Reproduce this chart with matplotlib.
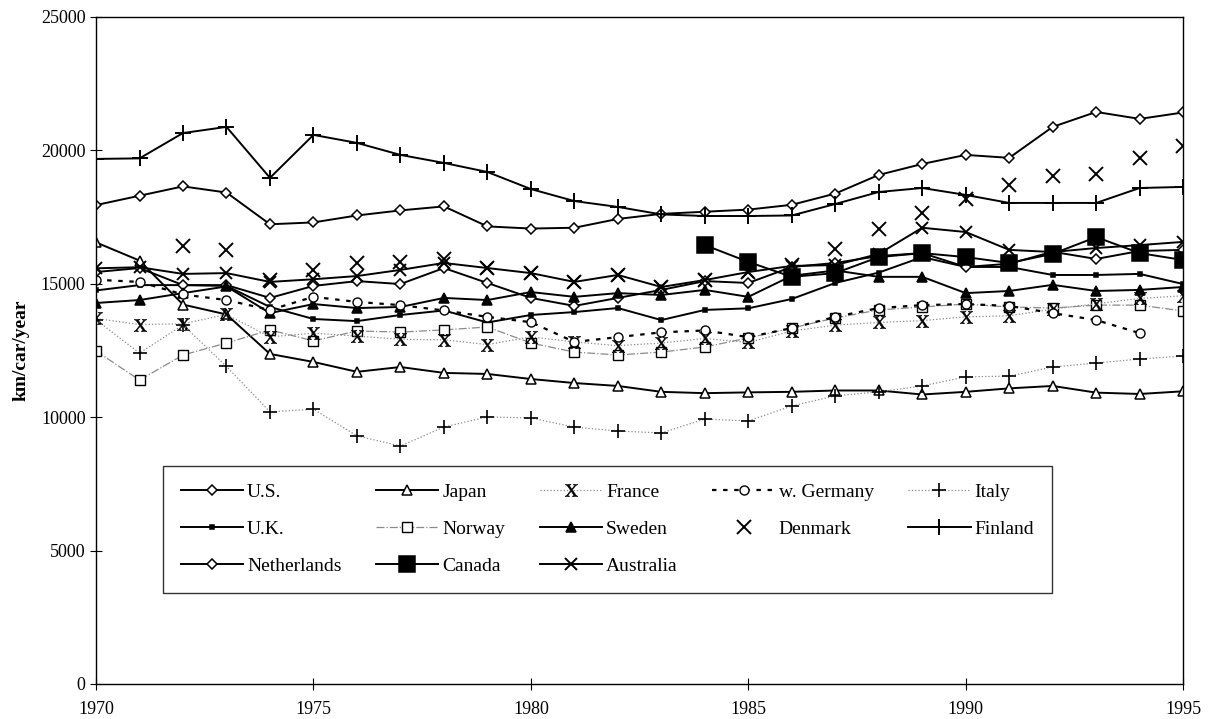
import matplotlib
matplotlib.use("Agg")
import matplotlib.pyplot as plt
import numpy as np

nan = np.nan

years = list(range(1970, 1996))

us = [17950, 18300, 18650, 18420, 17230, 17300, 17560, 17750, 17900, 17150, 17070, 17100, 17430,
      17620, 17700, 17780, 17960, 18380, 19080, 19490, 19830, 19720, 20880, 21440, 21180, 21420]
japan = [16550, 15870, 14220, 13850, 12370, 12070, 11700, 11880, 11660, 11620, 11430, 11280, 11170,
         10950, 10900, 10930, 10950, 11000, 11000, 10850, 10950, 11080, 11170, 10920, 10870, 10970]
france = [13700, 13470, 13500, 13850, 13010, 13150, 13040, 12920, 12900, 12720, 13010, 12820, 12680,
          12780, 12950, 12800, 13230, 13450, 13550, 13620, 13760, 13800, 14050, 14250, 14450, 14550]
w_germany = [15150, 15070, 14600, 14390, 14020, 14510, 14320, 14200, 14000, 13760, 13560, 12820, 13000,
             13180, 13250, 13000, 13340, 13760, 14090, 14200, 14240, 14170, 13900, 13640, 13150, nan]
italy = [13650, 12400, 13460, 11900, 10200, 10300, 9300, 8920, 9630, 10010, 9970, 9630, 9480,
         9410, 9930, 9860, 10420, 10800, 10950, 11170, 11510, 11540, 11880, 12030, 12180, 12290]
uk = [14750, 14950, 14950, 14920, 14130, 13680, 13600, 13830, 14000, 13550, 13830, 13940, 14090,
      13640, 14020, 14080, 14430, 15030, 15420, 16000, 15630, 15630, 15330, 15330, 15370, 14990]
norway = [12480, 11390, 12330, 12780, 13270, 12860, 13230, 13190, 13270, 13380, 12780, 12440, 12330,
          12440, 12630, 12970, 13340, 13720, 14020, 14130, 14240, 14130, 14090, 14200, 14200, 13980]
sweden = [14280, 14390, 14650, 14900, 13900, 14240, 14090, 14130, 14470, 14390, 14690, 14510, 14650,
          14580, 14770, 14510, 15300, 15500, 15260, 15260, 14650, 14730, 14960, 14730, 14770, 14880]
denmark = [nan, nan, 16420, 16270, 15150, 15520, 15780, 15820, 15930, 15590, 15400, 15070, 15330,
           14880, 15140, 15440, 15700, 16300, 17050, 17650, 18180, 18700, 19040, 19110, 19710, 20160]
finland = [19680, 19700, 20650, 20880, 18970, 20580, 20280, 19830, 19530, 19190, 18550, 18100, 17880,
           17600, 17540, 17540, 17560, 17990, 18440, 18590, 18330, 18030, 18030, 18030, 18590, 18630]
netherlands = [15440, 15590, 14950, 14950, 14470, 14920, 15100, 14990, 15590, 15030, 14470, 14170, 14470,
               14770, 15100, 15030, 15630, 15780, 16040, 16150, 15630, 15750, 16200, 15930, 16230, 16270]
canada = [nan] * 14 + [16450, 15820, 15260, 15400, 16000, 16150, 16000, 15780, 16120, 16750, 16150, 15890]
australia = [15580, 15620, 15370, 15400, 15070, 15170, 15290, 15520, 15780, 15590, 15400, 15070, 15330,
             14880, 15140, 15440, 15670, 15700, 16120, 17100, 16940, 16270, 16190, 16340, 16450, 16570]

plt.rcParams["font.family"] = "Liberation Serif"
plt.rcParams["mathtext.fontset"] = "stix"

fig = plt.figure(figsize=(12.11, 7.19), dpi=100)
ax = fig.add_axes([0.0793, 0.0487, 0.8977, 0.9277])

gray = "#8a8a8a"
solid = dict(color="black", lw=1.4, mfc="white", mec="black", mew=1.1)

# order chosen so a 5-column legend reads row by row like the original
series = [
    ("U.S.", us, dict(solid, marker="D", ms=5.5)),
    ("U.K.", uk, dict(solid, marker="s", ms=2.5, mfc="black")),
    ("Netherlands", netherlands, dict(solid, marker="D", ms=5.5)),
    ("Japan", japan, dict(solid, marker="^", ms=7.5)),
    ("Norway", norway, dict(color=gray, lw=0.9, ls="-.", marker="s", ms=7.5, mfc="white", mec="black", mew=1.0)),
    ("Canada", canada, dict(solid, marker="s", ms=11, mfc="black")),
    ("France", france, dict(color=gray, lw=0.9, ls=":", marker="$\\mathrm{X}$", ms=9, mfc="black", mec="black", mew=0.4)),
    ("Sweden", sweden, dict(solid, marker="^", ms=7.5, mfc="black")),
    ("Australia", australia, dict(solid, marker="x", ms=9, mew=1.4)),
    ("w. Germany", w_germany, dict(color="black", lw=1.6, ls=(0, (2, 3)), marker="o", ms=6.5, mfc="white", mec="black", mew=1.0)),
    ("Denmark", denmark, dict(color="black", ls="none", marker="x", ms=10, mew=1.4)),
    ("Italy", italy, dict(color=gray, lw=0.9, ls=":", marker="+", ms=10, mec="black", mew=1.2)),
    ("Finland", finland, dict(solid, marker="+", ms=11, mew=1.4)),
]

for name, vals, style in series:
    ax.plot(years, vals, label=name, **style)

ax.set_xlim(1970, 1995)
ax.set_ylim(0, 25000)
ax.set_xticks(range(1970, 1996, 5))
ax.set_yticks(range(0, 25001, 5000))
ax.tick_params(axis="both", direction="inout", length=8, width=0.8, labelsize=13)
ax.tick_params(axis="x", pad=8)
ax.set_ylabel("km/car/year", fontsize=14, fontweight="bold", labelpad=8)
for s in ax.spines.values():
    s.set_linewidth(1.0)

leg = ax.legend(ncol=5, loc="lower left", bbox_to_anchor=(0.062, 0.137, 0.817, 0.18),
                mode="expand", fontsize=14, frameon=True, fancybox=False, edgecolor="black",
                handlelength=3.2, handletextpad=0.2, borderpad=0.9, borderaxespad=0.0,
                labelspacing=1.0)
leg.get_frame().set_linewidth(1.0)

fig.savefig("out.png", dpi=100)
